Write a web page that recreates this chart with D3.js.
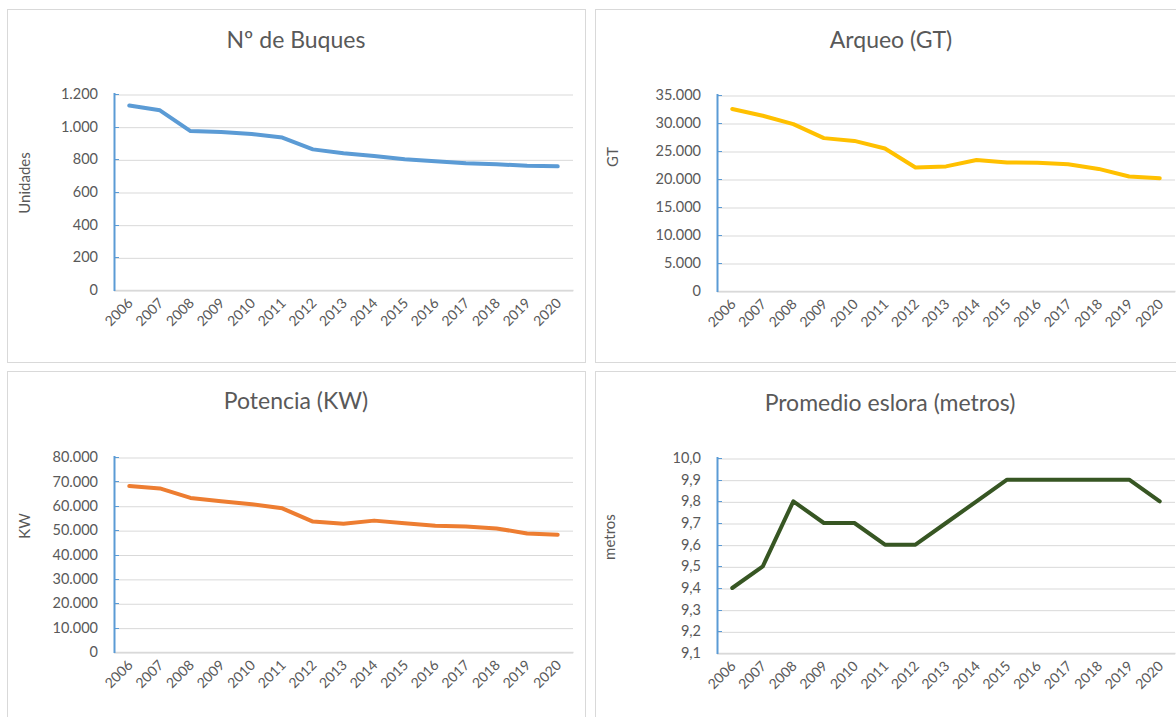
<!DOCTYPE html>
<html>
  <head>
    <meta charset="utf-8">
    <title>Flota pesquera 2006-2020</title>
    <script src="https://d3js.org/d3.v7.min.js"></script>
    <style>
      body { margin: 0; background: #fff; }
      svg { display: block; }
      svg text { font-family: Lato, "Open Sans", sans-serif; fill: #595959; }
      .grid line { stroke: #d9d9d9; stroke-width: 1; }
      .tick text { font-size: 14.5px; }
      .xaxis .tick text { font-size: 14px; }
      .title { font-size: 23px; }
      .ylabel { font-size: 15px; }
    </style>
  </head>
  <body>
    <div id="chart"></div>
    <script>
      // data
      const years = ["2006", "2007", "2008", "2009", "2010", "2011", "2012", "2013", "2014", "2015", "2016", "2017", "2018", "2019", "2020"];
      const buques = [1130, 1100, 973, 967, 955, 933, 861, 837, 820, 800, 788, 776, 770, 761, 757];
      const arqueo = [32500, 31300, 29800, 27300, 26800, 25450, 22050, 22250, 23400, 22950, 22900, 22650, 21800, 20450, 20150];
      const potencia = [68100, 67100, 63200, 61800, 60600, 58950, 53500, 52600, 53900, 52850, 51750, 51500, 50700, 48650, 48100];
      const eslora = [9.4, 9.5, 9.8, 9.7, 9.7, 9.6, 9.6, 9.7, 9.8, 9.9, 9.9, 9.9, 9.9, 9.9, 9.8];
      // tick labels
      const buquesTicks = [0, 200, 400, 600, 800, 1000, 1200];
      const arqueoTicks = [0, 5000, 10000, 15000, 20000, 25000, 30000, 35000];
      const potenciaTicks = [0, 10000, 20000, 30000, 40000, 50000, 60000, 70000, 80000];
      const esloraTicks = [9.1, 9.2, 9.3, 9.4, 9.5, 9.6, 9.7, 9.8, 9.9, 10.0];

      const es = d3.formatLocale({ decimal: ",", thousands: ".", grouping: [3], currency: ["", " €"] });

      const svg = d3.select("#chart")
        .append("svg")
        .attr("width", 1176)
        .attr("height", 717);

      // panel frames
      const frames = [
        { x: 7.5, y: 9.5, w: 578, h: 353 },
        { x: 595.5, y: 9.5, w: 600, h: 353 },
        { x: 7.5, y: 371.5, w: 578, h: 360 },
        { x: 595.5, y: 371.5, w: 600, h: 360 }
      ];
      svg.selectAll(".frame")
        .data(frames)
        .enter().append("rect")
          .attr("x", function(d) { return d.x; })
          .attr("y", function(d) { return d.y; })
          .attr("width", function(d) { return d.w; })
          .attr("height", function(d) { return d.h; })
          .attr("fill", "#fff")
          .attr("stroke", "#d9d9d9");

      drawPanel({
        title: "Nº de Buques", ylabel: "Unidades", values: buques, ticks: buquesTicks,
        fmt: es.format(",d"), color: "#5b9bd5",
        left: 114, right: 573, top: 94, bottom: 290,
        titleX: 296, titleY: 48, labelX: 25, labelY: 183
      });
      drawPanel({
        title: "Arqueo (GT)", ylabel: "GT", values: arqueo, ticks: arqueoTicks,
        fmt: es.format(",d"), color: "#ffc000",
        left: 717, right: 1175, top: 95, bottom: 291,
        titleX: 891, titleY: 48, labelX: 613, labelY: 157
      });
      drawPanel({
        title: "Potencia (KW)", ylabel: "KW", values: potencia, ticks: potenciaTicks,
        fmt: es.format(",d"), color: "#ed7d31",
        left: 114, right: 573, top: 457, bottom: 652,
        titleX: 296, titleY: 409, labelX: 25, labelY: 526
      });
      drawPanel({
        title: "Promedio eslora (metros)", ylabel: "metros", values: eslora, ticks: esloraTicks,
        fmt: es.format(",.1f"), color: "#375623",
        left: 717, right: 1175, top: 458, bottom: 653,
        titleX: 890, titleY: 411, labelX: 610, labelY: 537
      });

      function drawPanel(c) {
        const g = svg.append("g");
        const x = d3.scalePoint()
          .domain(years)
          .range([c.left, c.right])
          .padding(0.5);
        const y = d3.scaleLinear()
          .domain(d3.extent(c.ticks))
          .range([c.bottom, c.top]);

        // gridlines + y labels
        const yAxis = g.append("g")
          .attr("class", "grid")
          .attr("transform", "translate(" + c.left + ",0)")
          .call(d3.axisLeft(y)
            .tickValues(c.ticks)
            .tickFormat(c.fmt)
            .tickSize(-(c.right - c.left))
            .tickPadding(16));
        yAxis.select(".domain").remove();
        yAxis.selectAll(".tick line")
          .attr("y1", 0.5).attr("y2", 0.5);

        // blue tick marks on the value axis
        g.selectAll(".ytick")
          .data(c.ticks)
          .enter().append("line")
            .attr("x1", c.left)
            .attr("x2", c.left + 5)
            .attr("y1", function(d) { return Math.round(y(d)) + 0.5; })
            .attr("y2", function(d) { return Math.round(y(d)) + 0.5; })
            .attr("stroke", "#5b9bd5");

        // category axis
        const xAxis = g.append("g")
          .attr("class", "xaxis")
          .attr("transform", "translate(0," + c.bottom + ")")
          .call(d3.axisBottom(x).tickSize(0).tickPadding(0));
        xAxis.select(".domain").attr("stroke", "#d9d9d9").attr("stroke-width", 1.5);
        xAxis.selectAll(".tick text")
          .attr("text-anchor", "end")
          .attr("dy", 0)
          .attr("transform", "translate(4,14) rotate(-45)");

        // value axis line
        g.append("line")
          .attr("x1", c.left + 0.5).attr("x2", c.left + 0.5)
          .attr("y1", c.top - 1).attr("y2", c.bottom + 1)
          .attr("stroke", "#5b9bd5")
          .attr("stroke-width", 2);

        // series
        const line = d3.line()
          .x(function(d, i) { return x(years[i]); })
          .y(function(d) { return y(d); });
        g.append("path")
          .datum(c.values)
          .attr("d", line)
          .attr("fill", "none")
          .attr("stroke", c.color)
          .attr("stroke-width", 4)
          .attr("stroke-linejoin", "round")
          .attr("stroke-linecap", "round");

        // title and axis title
        g.append("text")
          .attr("class", "title")
          .attr("x", c.titleX)
          .attr("y", c.titleY)
          .attr("text-anchor", "middle")
          .text(c.title);
        g.append("text")
          .attr("class", "ylabel")
          .attr("transform", "translate(" + c.labelX + "," + c.labelY + ") rotate(-90)")
          .attr("text-anchor", "middle")
          .attr("dy", "0.35em")
          .text(c.ylabel);
      }
    </script>
  </body>
</html>
